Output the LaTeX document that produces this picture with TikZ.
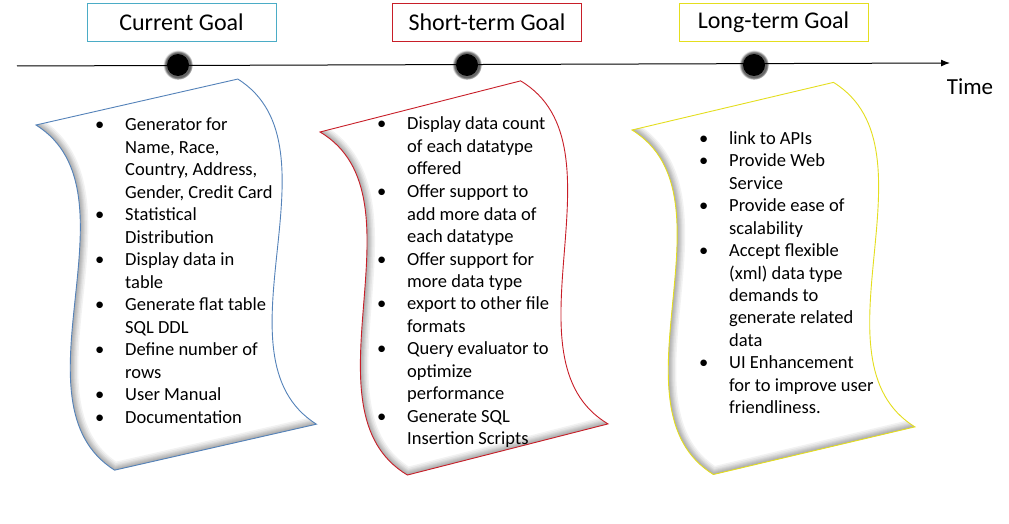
\documentclass[tikz,border=0pt]{standalone}
\usepackage{fontspec}
\setmainfont{Carlito}
\usepackage{tikz}
\usetikzlibrary{arrows.meta, positioning, shadows}
\definecolor{CurBlue}{RGB}{75, 172, 198}
\definecolor{CurEdge}{RGB}{84, 130, 185}
\definecolor{ShortRed}{RGB}{200, 30, 40}
\definecolor{LongYellow}{RGB}{228, 222, 30}
\newcommand{\sheetpath}{(0,0) -- (207,0) .. controls (297,90) and (117,264) .. (207,354) -- (0,354) .. controls (-90,264) and (90,90) .. (0,0) -- cycle}
\newcommand{\goalsheet}[3]{%
  \begin{scope}[shift={#1}, rotate=#2]
    \fill[white] \sheetpath;
    \begin{scope}
      \clip \sheetpath;
      \foreach \w in {16, 13, 10, 8, 6, 4, 2}
        \draw[line width=\w pt, black, opacity=0.05] (207,354) -- (0,354) .. controls (-90,264) and (90,90) .. (0,0);
    \end{scope}
    \draw[#3, line width=0.9pt] \sheetpath;
  \end{scope}}

\begin{document}
\begin{tikzpicture}[x=1pt, y=-1pt,
  goalbox/.style={draw, line width=1pt, minimum width=189pt, minimum height=38pt, inner sep=0pt, font=\fontsize{24}{28}\selectfont},
  goallist/.style={anchor=base west, inner sep=0pt, align=left, font=\fontsize{18.5}{22.5}\selectfont},
  dot/.style={circle, fill=black, minimum size=22pt, inner sep=0pt, circular glow={fill=black, opacity=0.6, shadow scale=1.35}},
  timeline/.style={-{Latex[length=9pt, width=7pt]}, line width=1pt}
]
  \useasboundingbox (0,0) rectangle (1009,524);

  % the three sheets
  \goalsheet{(36,125)}{12.83}{CurEdge}
  \goalsheet{(320,132)}{14.3}{ShortRed}
  \goalsheet{(632,130)}{13.3}{LongYellow}

  % time axis
  \coordinate (tstart) at (17,66);
  \coordinate (tend) at (950,63);
  \draw[timeline] (tstart) -- (tend);
  \node[dot] (curdot) at (178,65) {};
  \node[dot] (shortdot) at (467,65) {};
  \node[dot] (longdot) at (754,65) {};
  \node[font=\fontsize{23}{27}\selectfont] (timelbl) at (970,87) {Time};

  \node[goalbox, draw=CurBlue, above=12pt of curdot, xshift=3.5pt] (curtitle) {Current Goal};
  \node[goalbox, draw=ShortRed, above=12pt of shortdot, xshift=20pt] (shorttitle) {Short-term Goal};
  \node[goalbox, draw=LongYellow, above=12pt of longdot, xshift=19.5pt] (longtitle) {Long-term Goal};

  \node[goallist] (curlist) at (95,131) {\begin{tabular}[t]{@{}p{30pt}@{}l@{}}
    \textbullet & Generator for\\
    & Name, Race,\\
    & Country, Address,\\
    & Gender, Credit Card\\
    \textbullet & Statistical\\
    & Distribution\\
    \textbullet & Display data in\\
    & table\\
    \textbullet & Generate flat table\\
    & SQL DDL\\
    \textbullet & Define number of\\
    & rows\\
    \textbullet & User Manual\\
    \textbullet & Documentation
  \end{tabular}};
  \node[goallist] (shortlist) at (377,130) {\begin{tabular}[t]{@{}p{30pt}@{}l@{}}
    \textbullet & Display data count\\
    & of each datatype\\
    & offered\\
    \textbullet & Offer support to\\
    & add more data of\\
    & each datatype\\
    \textbullet & Offer support for\\
    & more data type\\
    \textbullet & export to other file\\
    & formats\\
    \textbullet & Query evaluator to\\
    & optimize\\
    & performance\\
    \textbullet & Generate SQL\\
    & Insertion Scripts
  \end{tabular}};
  \node[goallist] (longlist) at (699,144) {\begin{tabular}[t]{@{}p{30pt}@{}l@{}}
    \textbullet & link to APIs\\
    \textbullet & Provide Web\\
    & Service\\
    \textbullet & Provide ease of\\
    & scalability\\
    \textbullet & Accept flexible\\
    & (xml) data type\\
    & demands to\\
    & generate related\\
    & data\\
    \textbullet & UI Enhancement\\
    & for to improve user\\
    & friendliness.
  \end{tabular}};
\end{tikzpicture}
\end{document}
